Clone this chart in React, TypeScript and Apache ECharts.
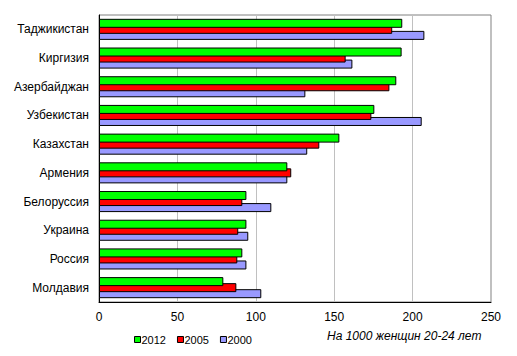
import React, { useEffect, useRef } from "react";
import * as echarts from "echarts";

const categories = [
  "Таджикистан",
  "Киргизия",
  "Азербайджан",
  "Узбекистан",
  "Казахстан",
  "Армения",
  "Белоруссия",
  "Украина",
  "Россия",
  "Молдавия",
];
const values2012 = [193.4, 193, 189.6, 175.6, 153.3, 120.1, 94, 94, 91.4, 79.3];
const values2005 = [187, 157.3, 185.2, 173.7, 140.5, 122.6, 91.4, 88.8, 88.2, 87.6];
const values2000 = [207.5, 161.6, 131.6, 205.8, 132.8, 120.1, 109.9, 95.2, 94, 103.5];
const xTicks = [0, 50, 100, 150, 200, 250];
const axisNote = "На 1000 женщин 20-24 лет";

const FONT = "'Liberation Sans', Arial, sans-serif";

export default function App() {
  const ref = useRef<HTMLDivElement>(null);
  useEffect(() => {
    document.body.style.margin = "0";
    if (!ref.current) return;
    const chart = echarts.init(ref.current, undefined, { renderer: "svg" });
    const mk = (name: string, data: number[], color: string, z: number) => ({
      name,
      type: "bar",
      data,
      barWidth: 9,
      barGap: "-33%",
      z,
      itemStyle: { color, borderColor: "#000", borderWidth: 1 },
    });
    chart.setOption({
      animation: false,
      textStyle: { fontFamily: FONT },
      grid: {
        left: 99,
        right: 26,
        top: 15,
        bottom: 54,
        show: true,
        borderColor: "#808080",
        borderWidth: 1,
        backgroundColor: "#fff",
      },
      legend: {
        data: ["2012", "2005", "2000"],
        left: 134,
        top: 334,
        padding: 0,
        icon: "rect",
        itemWidth: 6,
        itemHeight: 6,
        itemGap: 11,
        textStyle: { fontFamily: FONT, fontSize: 11, color: "#000", padding: [0, 0, 0, -4] },
        itemStyle: { borderColor: "#000", borderWidth: 1 },
      },
      xAxis: {
        type: "value",
        min: xTicks[0],
        max: xTicks[xTicks.length - 1],
        interval: 50,
        axisLine: { show: true, lineStyle: { color: "#000", width: 1 } },
        axisTick: { show: false },
        axisLabel: { fontFamily: FONT, fontSize: 12, color: "#000", margin: 9 },
        splitLine: { show: true, lineStyle: { color: "#c0c0c0", width: 1 } },
      },
      yAxis: {
        type: "category",
        data: categories,
        inverse: true,
        axisLine: { show: true, lineStyle: { color: "#000", width: 1 } },
        axisTick: { show: false },
        axisLabel: { fontFamily: FONT, fontSize: 12, color: "#000", margin: 10 },
        splitLine: { show: false },
      },
      graphic: [
        {
          type: "text",
          left: 327,
          top: 330,
          style: {
            text: axisNote,
            font: `italic 12px ${FONT}`,
            fill: "#000",
          },
        },
      ],
      series: [
        mk("2012", values2012, "#00ff00", 4),
        mk("2005", values2005, "#ff0000", 3),
        mk("2000", values2000, "#9999ff", 2),
      ],
    });
    return () => chart.dispose();
  }, []);
  return <div ref={ref} style={{ width: 517, height: 356 }} />;
}
